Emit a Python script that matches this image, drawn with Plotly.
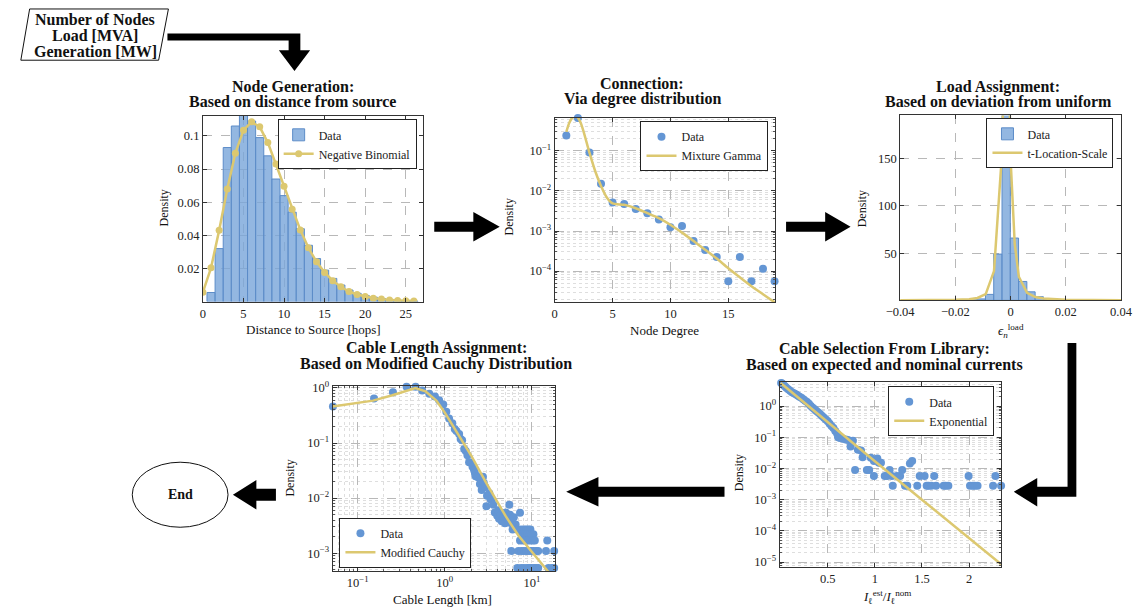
import plotly.graph_objects as go

W, H = 1146, 613
FONT = "'Liberation Serif', 'Times New Roman', 'DejaVu Serif', serif"
BLUE_FILL = "rgba(120,165,218,0.80)"
BLUE_EDGE = "rgb(92,140,200)"
BLUE_DOT = "rgb(100,150,212)"
GOLD = "rgb(220,200,112)"

# ---------------- data ----------------
# Panel 1: Node generation (distance to source, hops)
hop_bins = list(range(1, 27))
hop_density = [0.0055, 0.032, 0.093, 0.106, 0.118, 0.109, 0.099, 0.088, 0.074, 0.064,
               0.054, 0.044, 0.034, 0.026, 0.019, 0.014, 0.010, 0.007, 0.005, 0.0037,
               0.0027, 0.0019, 0.0013, 0.0009, 0.0005, 0.0003]
nb_hops = list(range(0, 27))
nb_pdf = [0.0057, 0.0204, 0.043, 0.068, 0.0896, 0.1035, 0.1085, 0.1055, 0.096, 0.083,
          0.0697, 0.0558, 0.0433, 0.0325, 0.024, 0.0176, 0.0126, 0.009, 0.0061, 0.0043,
          0.0031, 0.0021, 0.0015, 0.001, 0.0007, 0.0005, 0.0003]

# Panel 2: Connection (node degree)
deg = list(range(1, 20))
deg_density = [0.243, 0.66, 0.091, 0.0151, 0.00516, 0.0047, 0.00355, 0.00277, 0.00194,
               0.00125, 0.00133, 0.000567, 0.000335, 0.000225, 0.0000557, 0.000225,
               0.0000557, 0.000114, 0.0000557]
mg_deg = [1.0, 1.25, 1.5, 1.8, 2.0, 2.25, 2.5, 3.0, 3.5, 4.0, 4.5, 5.0, 6, 7, 8, 9, 10,
          11, 12, 13, 14, 15, 16, 17, 18, 19]
mg_pdf = [0.30, 0.50, 0.66, 0.74, 0.68, 0.50, 0.30, 0.09, 0.031, 0.0133, 0.0069, 0.0049,
          0.0045, 0.0037, 0.0028, 0.0021, 0.00143, 0.00091, 0.00056, 0.00034, 0.000205,
          0.000118, 0.000070, 0.000042, 0.0000265, 0.0000166]

# Panel 3: Load assignment (deviation from uniform)
eps_bins = [-0.0136, -0.0106, -0.0076, -0.0046, -0.0016, 0.0014, 0.0044, 0.0074, 0.0104,
            0.0134, 0.0164]
eps_density = [0.5, 1.5, 6.3, 49, 230, 66, 20, 9, 3.8, 1.2, 0.4]
tls_eps = [-0.04, -0.03, -0.02, -0.015, -0.012, -0.009, -0.006, -0.003, -0.0015, 0.0,
           0.0015, 0.003, 0.006, 0.009, 0.012, 0.02, 0.03, 0.04]
tls_pdf = [0.1, 0.2, 0.6, 1.2, 2.5, 6.5, 31, 160, 420, 150, 60, 25, 8, 3.5, 2, 0.6, 0.2, 0.1]

# Panel 4: Cable length (km)
len_km = [0.052, 0.154, 0.254, 0.364, 0.462, 0.55, 0.664, 0.77, 0.86, 0.96, 1.04, 1.12,
          1.22, 1.30, 1.36, 1.46, 1.52, 1.58, 1.67, 1.74, 1.82, 1.90, 2.0, 2.08, 2.17,
          2.22, 2.26, 2.36, 2.46, 2.53, 2.6, 2.65, 2.74, 2.8, 2.9, 3.0, 3.05, 3.24, 3.35,
          3.45, 3.6, 3.75, 3.9, 4.0, 4.1, 4.2, 4.4, 4.5, 4.7, 4.9, 5.0, 5.3, 5.5, 5.6,
          5.8, 6.0, 6.2, 6.5, 6.8, 7.3, 7.5,
          8.1, 8.6, 9.1, 9.6,
          7.6, 8.3, 8.9, 9.4, 9.9, 10.4,
          7.3, 7.9, 8.5, 9.0, 9.6, 10.2, 10.8, 15.0,
          5.8, 7.0, 7.6, 8.1, 8.7, 9.3, 9.9, 10.5, 11.2, 11.8, 14.5, 18.0,
          6.8, 7.5, 8.1, 8.8, 9.3, 9.9, 10.6, 11.2, 11.8, 15.5, 17.0, 18.0]
len_density = [0.46, 0.645, 0.836, 1.05, 1.05, 0.90, 0.79, 0.70, 0.60, 0.50, 0.37, 0.28,
               0.23, 0.18, 0.165, 0.146, 0.118, 0.113, 0.078, 0.072, 0.060, 0.045, 0.044,
               0.037, 0.032, 0.028, 0.025, 0.0245, 0.0235, 0.018, 0.024, 0.014, 0.0245,
               0.019, 0.016, 0.0071, 0.011, 0.0123, 0.0095, 0.0093, 0.0076, 0.0055, 0.0054,
               0.0048, 0.0060, 0.0042, 0.0050, 0.0038, 0.0045, 0.0035, 0.0055, 0.0040,
               0.0076, 0.0050, 0.0035, 0.0027, 0.0045, 0.0033, 0.0027, 0.0054, 0.0027,
               0.0027, 0.0027, 0.0027, 0.0027,
               0.0022, 0.0022, 0.0022, 0.0022, 0.0022, 0.0022,
               0.0017, 0.0017, 0.0017, 0.0017, 0.0017, 0.0017, 0.0017, 0.0017,
               0.0011, 0.0011, 0.0011, 0.0011, 0.0011, 0.0011, 0.0011, 0.0011, 0.0011,
               0.0011, 0.0011, 0.0011,
               0.00054, 0.00054, 0.00054, 0.00054, 0.00054, 0.00054, 0.00054, 0.00054,
               0.00054, 0.00054, 0.00054, 0.00054]
mc_km = [0.0515, 0.15, 0.25, 0.46, 0.6, 0.8, 1.0, 1.5, 2.0, 3.0, 5.0, 7.0, 10.0, 15.0, 18.3]
mc_pdf = [0.463, 0.59, 0.74, 1.0, 0.87, 0.59, 0.357, 0.128, 0.06, 0.0187, 0.0047, 0.0021,
          0.00104, 0.00047, 0.00033]

# Panel 5: Cable selection (I_est / I_nom)
ratio = [0.005, 0.015, 0.03, 0.045, 0.06, 0.08, 0.1, 0.12, 0.14, 0.16, 0.18, 0.2, 0.22,
         0.24, 0.26, 0.28, 0.3, 0.32, 0.34, 0.36, 0.38, 0.40, 0.42, 0.44, 0.46, 0.48, 0.50,
         0.52, 0.54, 0.56, 0.58, 0.60, 0.61, 0.63, 0.66, 0.69, 0.715, 0.742, 0.767, 0.79,
         0.82, 0.853, 0.87, 0.915, 0.94, 0.957, 0.99, 0.99, 1.026, 1.043, 1.065, 1.105,
         1.13, 1.157, 1.18, 1.19, 1.234, 1.268, 1.29, 1.32, 1.344, 1.372, 1.396, 1.45,
         1.476, 1.528, 1.55, 1.57, 1.6, 1.63, 1.65, 1.73, 1.75, 1.78, 1.995, 2.01, 2.04,
         2.06, 2.09, 2.255, 2.28, 2.34]
ratio_density = [5.5, 5.3, 4.8, 4.3, 3.9, 3.5, 3.1, 2.8, 2.6, 2.4, 2.2, 2.0, 1.85, 1.65,
                 1.5, 1.35, 1.2, 1.0, 0.88, 0.8, 0.7, 0.62, 0.55, 0.48, 0.42, 0.37, 0.33,
                 0.27, 0.23, 0.2, 0.16, 0.13, 0.1, 0.095, 0.09, 0.085, 0.082, 0.051, 0.078,
                 0.0089, 0.04, 0.038, 0.023, 0.0089, 0.0089, 0.022, 0.0174, 0.0057, 0.021,
                 0.0152, 0.0152, 0.0057, 0.0057, 0.0089, 0.0057, 0.0028, 0.0057, 0.0057,
                 0.0089, 0.0028, 0.0028, 0.0145, 0.0174, 0.0028, 0.0057, 0.0057, 0.0028,
                 0.0028, 0.0028, 0.0057, 0.0028, 0.0028, 0.0028, 0.0028, 0.0057, 0.0028,
                 0.0028, 0.0028, 0.0028, 0.0028, 0.0057, 0.0028]
exp_ratio = [0.0, 0.5, 1.0, 1.5, 2.0, 2.34]
exp_pdf = [5.5, 0.30, 0.017, 0.001, 0.000058, 0.0000085]

# ---------------- helpers ----------------
def px(x):
    return x / W


def py(y):
    return 1 - y / H


fig = go.Figure()

# panel 1
fig.add_trace(go.Bar(x=hop_bins, y=hop_density, width=1, name="Data",
                     marker=dict(color=BLUE_FILL, line=dict(color=BLUE_EDGE, width=1)),
                     xaxis="x", yaxis="y", legend="legend"))
fig.add_trace(go.Scatter(x=nb_hops, y=nb_pdf, mode="lines+markers", name="Negative Binomial",
                         line=dict(color=GOLD, width=2.5), marker=dict(color=GOLD, size=7),
                         xaxis="x", yaxis="y", legend="legend"))
# panel 2
fig.add_trace(go.Scatter(x=deg, y=deg_density, mode="markers", name="Data",
                         marker=dict(color=BLUE_DOT, size=8), cliponaxis=False,
                         xaxis="x2", yaxis="y2", legend="legend2"))
fig.add_trace(go.Scatter(x=mg_deg, y=mg_pdf, mode="lines", name="Mixture Gamma",
                         line=dict(color=GOLD, width=2.5, shape="spline", smoothing=0.6),
                         xaxis="x2", yaxis="y2", legend="legend2"))
# panel 3
fig.add_trace(go.Bar(x=eps_bins, y=eps_density, width=0.003, name="Data",
                     marker=dict(color=BLUE_FILL, line=dict(color=BLUE_EDGE, width=1)),
                     xaxis="x3", yaxis="y3", legend="legend3"))
fig.add_trace(go.Scatter(x=tls_eps, y=tls_pdf, mode="lines", name="t-Location-Scale",
                         line=dict(color=GOLD, width=2.5),
                         xaxis="x3", yaxis="y3", legend="legend3"))
# panel 4
fig.add_trace(go.Scatter(x=len_km, y=len_density, mode="markers", name="Data",
                         marker=dict(color=BLUE_DOT, size=8), cliponaxis=False,
                         xaxis="x4", yaxis="y4", legend="legend4"))
fig.add_trace(go.Scatter(x=mc_km, y=mc_pdf, mode="lines", name="Modified Cauchy",
                         line=dict(color=GOLD, width=2.5),
                         xaxis="x4", yaxis="y4", legend="legend4"))
# panel 5
fig.add_trace(go.Scatter(x=ratio, y=ratio_density, mode="markers", name="Data",
                         marker=dict(color=BLUE_DOT, size=8), cliponaxis=False,
                         xaxis="x5", yaxis="y5", legend="legend5"))
fig.add_trace(go.Scatter(x=exp_ratio, y=exp_pdf, mode="lines", name="Exponential",
                         line=dict(color=GOLD, width=2.5),
                         xaxis="x5", yaxis="y5", legend="legend5"))

TICKFONT = dict(family=FONT, size=12.5, color="#222")


def base_axis(domain, rng, log=False, **kw):
    d = dict(domain=domain, range=rng, type="log" if log else "linear",
             showline=True, linecolor="#333", linewidth=1, mirror="ticks",
             ticks="inside", ticklen=4, tickcolor="#333",
             showgrid=True, gridcolor="#b8b8b8", griddash="dash", gridwidth=1,
             zeroline=False, tickfont=TICKFONT, fixedrange=True)
    if log:
        d["minor"] = dict(dtick="D1", ticks="inside", ticklen=2, tickcolor="#555",
                          showgrid=True, gridcolor="#dedede", griddash="dot", gridwidth=1)
    d.update(kw)
    return d


def xdom(a, b):
    return [px(a), px(b)]


def ydom(top, bottom):
    return [py(bottom), py(top)]


def sup(e):
    return "10<sup>" + str(e).replace("-", "\u2212") + "</sup>"


layout = dict(
    width=W, height=H, autosize=False,
    margin=dict(l=0, r=0, t=0, b=0),
    paper_bgcolor="white", plot_bgcolor="white",
    font=dict(family=FONT, color="#222"),
    barmode="overlay",
    # panel 1
    xaxis=base_axis(xdom(193.3, 418.3), [0, 27.1], anchor="y",
                    tickvals=[0, 5, 10, 15, 20, 25]),
    yaxis=base_axis(ydom(110.7, 299.0), [0, 0.112], anchor="x",
                    tickvals=[0.02, 0.04, 0.06, 0.08, 0.1],
                    ticktext=["0.02", "0.04", "0.06", "0.08", "0.1"]),
    # panel 2
    xaxis2=base_axis(xdom(553.3, 778.7), [0, 19.04], anchor="y2",
                     tickvals=[0, 5, 10, 15]),
    yaxis2=base_axis(ydom(112.7, 299.3), [-4.77, -0.18], log=True, anchor="x2",
                     tickvals=[1e-4, 1e-3, 1e-2, 1e-1],
                     ticktext=[sup(-4), sup(-3), sup(-2), sup(-1)]),
    # panel 3
    xaxis3=base_axis(xdom(906.7, 1132.7), [-0.04, 0.04], anchor="y3",
                     tickvals=[-0.04, -0.02, 0, 0.02, 0.04],
                     ticktext=["\u22120.04", "\u22120.02", "0", "0.02", "0.04"]),
    yaxis3=base_axis(ydom(110.0, 297.7), [0, 196], anchor="x3",
                     tickvals=[50, 100, 150]),
    # panel 4
    xaxis4=base_axis(xdom(326.0, 553.3), [-1.288, 1.262], log=True, anchor="y4",
                     tickvals=[0.1, 1, 10], ticktext=[sup(-1), sup(0), sup(1)]),
    yaxis4=base_axis(ydom(385.0, 572.3), [-3.322, 0.03], log=True, anchor="x4",
                     tickvals=[1e-3, 1e-2, 1e-1, 1],
                     ticktext=[sup(-3), sup(-2), sup(-1), sup(0)]),
    # panel 5
    xaxis5=base_axis(xdom(783.3, 1010.0), [-0.012, 2.34], anchor="y5",
                     tickvals=[0.5, 1, 1.5, 2], ticktext=["0.5", "1", "1.5", "2"]),
    yaxis5=base_axis(ydom(380.7, 568.3), [-5.158, 0.77], log=True, anchor="x5",
                     tickvals=[1e-5, 1e-4, 1e-3, 1e-2, 1e-1, 1],
                     ticktext=[sup(-5), sup(-4), sup(-3), sup(-2), sup(-1), sup(0)]),
)


def legend_cfg(x, y, xanchor, yanchor):
    return dict(x=px(x), y=py(y), xanchor=xanchor, yanchor=yanchor,
                xref="paper", yref="paper", bgcolor="white", bordercolor="#222",
                borderwidth=1, font=dict(family=FONT, size=12, color="#222"),
                tracegroupgap=0, itemwidth=30)


layout["legend"] = legend_cfg(412, 114, "right", "top")
layout["legend2"] = legend_cfg(772, 116, "right", "top")
layout["legend3"] = legend_cfg(1125, 113, "right", "top")
layout["legend4"] = legend_cfg(333, 569, "left", "bottom")
layout["legend5"] = legend_cfg(1003, 385, "right", "top")
layout["showlegend"] = True
fig.update_layout(**layout)


def text(x, y, s, size=12, bold=False, angle=0):
    fig.add_annotation(x=px(x), y=py(y), xref="paper", yref="paper",
                       text=("<b>" + s + "</b>") if bold else s, showarrow=False,
                       font=dict(family=FONT, size=size, color="#111"),
                       textangle=angle, xanchor="center", yanchor="middle")


TS = 16
# titles
text(285, 81, "Node Generation:", TS, True)
text(285, 96, "Based on distance from source", TS, True)
text(643, 78, "Connection:", TS, True)
text(643, 93, "Via degree distribution", TS, True)
text(1007, 81, "Load Assignment:", TS, True)
text(1007, 96, "Based on deviation from uniform", TS, True)
text(432, 346, "Cable Length Assignment:", TS, True)
text(432, 362, "Based on Modified Cauchy Distribution", TS, True)
text(891, 347, "Cable Selection From Library:", TS, True)
text(891, 363, "Based on expected and nominal currents", TS, True)

# axis labels
text(153, 204, "Density", 12, angle=-90)
text(506, 213, "Density", 12, angle=-90)
text(868, 205, "Density", 12, angle=-90)
text(282, 478, "Density", 12, angle=-90)
text(742, 473, "Density", 12, angle=-90)
text(306, 327, "Distance to Source [hops]", 13)
text(666, 328, "Node Degree", 13)
text(1020, 329, "<i>\u03f5</i><sub><i>n</i></sub><sup>load</sup>", 13)
text(438, 601, "Cable Length [km]", 13)
text(893, 599, "<i>I</i><sub>\u2113</sub><sup>est</sup>/<i>I</i><sub>\u2113</sub><sup>nom</sup>", 13)

# start box text
text(83, 13, "Number of Nodes", 16, True)
text(83, 29, "Load [MVA]", 16, True)
text(83, 45, "Generation [MW]", 16, True)
text(170, 495, "End", 14, True)


def path(points):
    s = "M " + " L ".join(f"{px(x):.5f},{py(y):.5f}" for x, y in points) + " Z"
    return s


shapes = []
# start parallelogram
shapes.append(dict(type="path", xref="paper", yref="paper",
                   path=path([(16, 2), (158, 2), (148, 54), (7, 54)]),
                   line=dict(color="#111", width=1), fillcolor="rgba(0,0,0,0)"))
# End ellipse
shapes.append(dict(type="circle", xref="paper", yref="paper",
                   x0=px(121), x1=px(219), y0=py(528), y1=py(462),
                   line=dict(color="#111", width=1)))

arrows = [
    # top L-arrow
    [(157, 27), (293, 27), (293, 44), (303, 44), (287, 65), (271, 44), (281, 44),
     (281, 34), (157, 34)],
    # panel1 -> panel2
    [(430, 218), (470, 218), (470, 208), (497, 223), (470, 238), (470, 228), (430, 228)],
    # panel2 -> panel3
    [(790, 218), (830, 218), (830, 208), (856, 223), (830, 238), (830, 228), (790, 228)],
    # right L-arrow to panel 5
    [(1078, 341), (1087, 341), (1087, 497), (1047, 497), (1047, 507), (1023, 492),
     (1047, 478), (1047, 487), (1078, 487)],
    # panel5 -> panel4
    [(727, 487), (598, 487), (598, 477), (565, 492), (598, 507), (598, 497), (727, 497)],
    # panel4 -> End
    [(268, 489), (248, 489), (248, 480), (224, 495), (248, 510), (248, 501), (268, 501)],
]
for a in arrows:
    shapes.append(dict(type="path", xref="paper", yref="paper", path=path(a),
                       line=dict(color="black", width=0), fillcolor="black"))

fig.update_layout(shapes=shapes)

fig.write_html("out.html")
